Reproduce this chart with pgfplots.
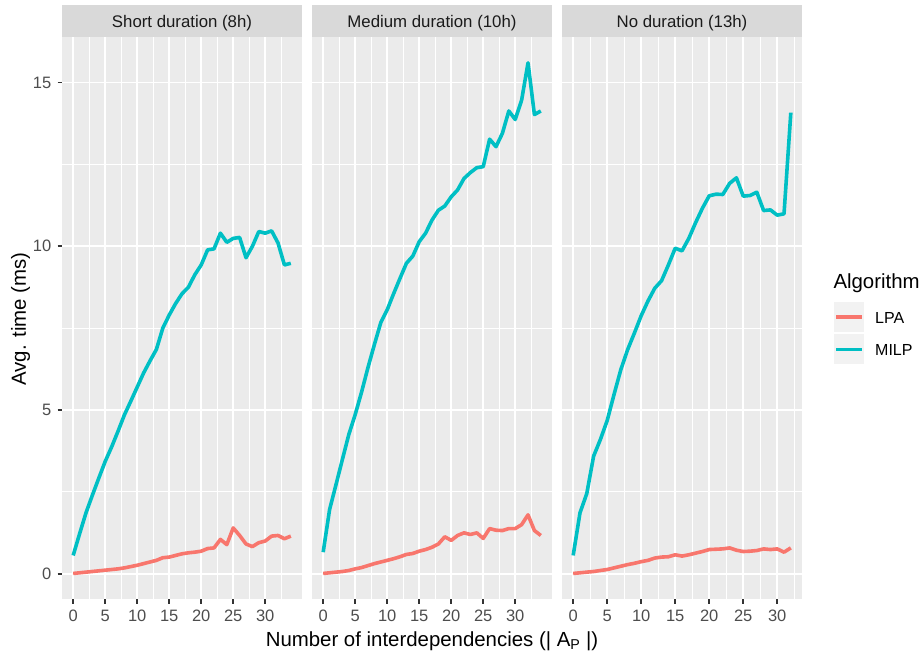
\documentclass[border=0pt]{standalone}
\usepackage{pgfplots}
\pgfplotsset{compat=1.18}
\usepackage{pgfplotstable}
\usepackage{fontspec}
\setmainfont{Liberation Sans}
\definecolor{panelbg}{HTML}{EBEBEB}
\definecolor{stripbg}{HTML}{D9D9D9}
\definecolor{striptxt}{HTML}{1A1A1A}
\definecolor{ticklab}{HTML}{4D4D4D}
\definecolor{tickcol}{HTML}{333333}
\definecolor{keybg}{HTML}{F2F2F2}
\definecolor{lpa}{HTML}{F8766D}
\definecolor{milp}{HTML}{00BFC4}

\pgfplotstableread{
x y
0 0.56
1 1.22
2 1.86
3 2.40
4 2.92
5 3.43
6 3.87
7 4.35
8 4.85
9 5.27
10 5.70
11 6.13
12 6.50
13 6.85
14 7.50
15 7.90
16 8.25
17 8.55
18 8.75
19 9.13
20 9.43
21 9.89
22 9.92
23 10.40
24 10.12
25 10.24
26 10.27
27 9.65
28 10.00
29 10.45
30 10.40
31 10.47
32 10.10
33 9.43
34 9.48
}\milpA
\pgfplotstableread{
x y
0 0.01
1 0.03
2 0.05
3 0.07
4 0.09
5 0.11
6 0.13
7 0.15
8 0.18
9 0.22
10 0.26
11 0.31
12 0.36
13 0.41
14 0.49
15 0.51
16 0.56
17 0.61
18 0.64
19 0.66
20 0.69
21 0.77
22 0.79
23 1.05
24 0.89
25 1.40
26 1.17
27 0.91
28 0.83
29 0.95
30 1.00
31 1.15
32 1.17
33 1.07
34 1.15
}\lpaA
\pgfplotstableread{
x y
0 0.66
1 1.96
2 2.72
3 3.49
4 4.25
5 4.86
6 5.55
7 6.30
8 7.00
9 7.67
10 8.06
11 8.55
12 9.02
13 9.48
14 9.70
15 10.14
16 10.40
17 10.80
18 11.10
19 11.23
20 11.51
21 11.72
22 12.07
23 12.25
24 12.40
25 12.43
26 13.27
27 13.04
28 13.45
29 14.13
30 13.87
31 14.46
32 15.60
33 14.02
34 14.13
}\milpB
\pgfplotstableread{
x y
0 0.01
1 0.03
2 0.05
3 0.07
4 0.10
5 0.15
6 0.19
7 0.25
8 0.31
9 0.36
10 0.41
11 0.46
12 0.52
13 0.59
14 0.62
15 0.69
16 0.74
17 0.81
18 0.91
19 1.13
20 1.02
21 1.17
22 1.25
23 1.20
24 1.25
25 1.08
26 1.38
27 1.33
28 1.32
29 1.38
30 1.38
31 1.50
32 1.80
33 1.32
34 1.17
}\lpaB
\pgfplotstableread{
x y
0 0.56
1 1.86
2 2.45
3 3.59
4 4.10
5 4.68
6 5.47
7 6.23
8 6.84
9 7.35
10 7.88
11 8.33
12 8.72
13 8.95
14 9.43
15 9.94
16 9.86
17 10.24
18 10.72
19 11.16
20 11.54
21 11.59
22 11.58
23 11.92
24 12.09
25 11.53
26 11.55
27 11.65
28 11.09
29 11.11
30 10.95
31 10.99
32 14.08
}\milpC
\pgfplotstableread{
x y
0 0.01
1 0.03
2 0.05
3 0.07
4 0.10
5 0.13
6 0.18
7 0.23
8 0.28
9 0.32
10 0.37
11 0.41
12 0.48
13 0.51
14 0.52
15 0.58
16 0.54
17 0.58
18 0.63
19 0.68
20 0.74
21 0.75
22 0.76
23 0.79
24 0.72
25 0.68
26 0.69
27 0.71
28 0.76
29 0.74
30 0.76
31 0.66
32 0.79
}\lpaC

\newcommand{\ticksize}{\fontsize{16.5}{19}\selectfont}
\newcommand{\stripsize}{\fontsize{16.8}{19}\selectfont}
\newcommand{\legsize}{\fontsize{16}{19}\selectfont}
\newcommand{\titlesize}{\fontsize{20.4}{23}\selectfont}

\pgfplotsset{
  panel/.style={
    scale only axis,
    width=239.4pt, height=561.7pt,
    anchor=north west,
    ymin=-0.77, ymax=16.38,
    axis background/.style={fill=panelbg},
    axis line style={draw=none},
    ytick={0,5,10,15},
    minor ytick={2.5,7.5,12.5},
    xtick={0,5,...,30},
    grid=both,
    major grid style={white, line width=1.86pt},
    minor grid style={white, line width=0.93pt},
    tick align=outside,
    major tick length=4.8pt,
    minor tick length=0pt,
    tick style={color=tickcol, line width=1.86pt},
    /pgf/number format/assume math mode=true,
    xticklabel style={font=\ticksize, text=ticklab, inner sep=0pt, anchor=north},
    yticklabel style={font=\ticksize, text=ticklab, inner sep=0pt, anchor=east},
    xticklabel shift=6pt,
    yticklabel shift=6pt,
    clip=true,
  },
  lpaline/.style={color=lpa, line width=3.6pt, line join=round, no markers},
  milpline/.style={color=milp, line width=3.6pt, line join=round, no markers},
}

\begin{document}
\begin{tikzpicture}[x=1pt,y=1pt]
\useasboundingbox (0,0) rectangle (920,654);

% Panel 1
\begin{axis}[panel, at={(62.3pt,616.7pt)},
  xmin=-1.7, xmax=35.7,
  minor xtick={2.5,7.5,...,35},
  tickpos=left]
\addplot[milpline] table[x=x,y=y] {\milpA};
\addplot[lpaline] table[x=x,y=y] {\lpaA};
\end{axis}

% Panel 2
\begin{axis}[panel, at={(312.3pt,616.7pt)},
  xmin=-1.7, xmax=35.7,
  minor xtick={2.5,7.5,...,35},
  xtick pos=left, ytick pos=left,
  yticklabels={}, ytick style={draw=none}]
\addplot[milpline] table[x=x,y=y] {\milpB};
\addplot[lpaline] table[x=x,y=y] {\lpaB};
\end{axis}

% Panel 3
\begin{axis}[panel, at={(562.3pt,616.7pt)},
  xmin=-1.6, xmax=33.6,
  minor xtick={2.5,7.5,...,32.5},
  xtick pos=left, ytick pos=left,
  yticklabels={}, ytick style={draw=none}]
\addplot[milpline] table[x=x,y=y] {\milpC};
\addplot[lpaline] table[x=x,y=y] {\lpaC};
\end{axis}

% Strips
\fill[stripbg] (62.3,{654-5}) rectangle (301.7,{654-37.3});
\fill[stripbg] (312.3,{654-5}) rectangle (551.7,{654-37.3});
\fill[stripbg] (562.3,{654-5}) rectangle (801.7,{654-37.3});
\node[anchor=base, inner sep=0pt, text=striptxt, font=\stripsize] at (182,{654-27.8}) {Short duration (8h)};
\node[anchor=base, inner sep=0pt, text=striptxt, font=\stripsize] at (432,{654-27.8}) {Medium duration (10h)};
\node[anchor=base, inner sep=0pt, text=striptxt, font=\stripsize] at (682,{654-27.8}) {No duration (13h)};

% Axis titles
\node[rotate=90, inner sep=0pt, font=\titlesize] at (20.5,{654-319}) {Avg. time (ms)};
\node[anchor=base, inner sep=0pt, font=\titlesize] at (432,{654-646.5}) {Number of interdependencies (| A\textsubscript{P} |)};

% Legend
\node[anchor=base west, inner sep=0pt, font=\titlesize] at (833.3,{654-288.3}) {Algorithm};
\fill[keybg] (834,{654-302.3}) rectangle (864,{654-332.3});
\fill[keybg] (834,{654-334.3}) rectangle (864,{654-364.3});
\draw[lpa, line width=3.6pt] (836,{654-317.3}) -- (862,{654-317.3});
\draw[milp, line width=3.6pt] (836,{654-349.3}) -- (862,{654-349.3});
\node[anchor=west, inner sep=0pt, font=\legsize] at (875,{654-317.5}) {LPA};
\node[anchor=west, inner sep=0pt, font=\legsize] at (875,{654-349.5}) {MILP};
\end{tikzpicture}
\end{document}
